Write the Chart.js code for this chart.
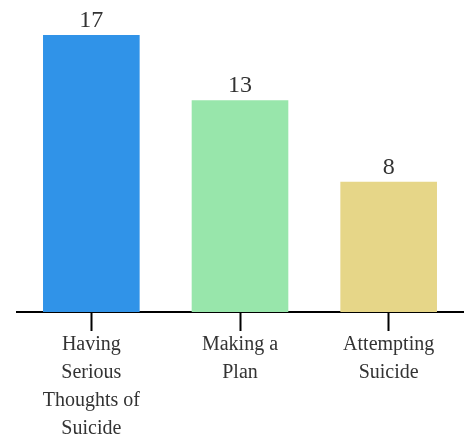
<!DOCTYPE html>
<html>
<head>
<meta charset="utf-8">
<script src="https://cdn.jsdelivr.net/npm/chart.js@4"></script>
<style>
  body { margin: 0; background: #fff; }
  #wrap { width: 468px; height: 438px; }
</style>
</head>
<body>
<div id="wrap"><canvas id="chart" width="468" height="438"></canvas></div>
<script>
// Chart data
const categories = [
  ['Having', 'Serious', 'Thoughts of', 'Suicide'],
  ['Making a', 'Plan'],
  ['Attempting', 'Suicide']
];
const counts = [17, 13, 8];
const barColors = ['#3093e8', '#98e6ab', '#e6d688'];

// Draw the count above each bar
const valueLabels = {
  id: 'valueLabels',
  afterDatasetsDraw(chart) {
    const ctx = chart.ctx;
    const meta = chart.getDatasetMeta(0);
    ctx.save();
    ctx.font = '24px "Liberation Serif", "Times New Roman", serif';
    ctx.fillStyle = '#333';
    ctx.textAlign = 'center';
    ctx.textBaseline = 'alphabetic';
    meta.data.forEach((bar, i) => {
      ctx.fillText(counts[i], bar.x, bar.y - 8);
    });
    ctx.restore();
  }
};

const ctx = document.getElementById('chart').getContext('2d');
new Chart(ctx, {
  type: 'bar',
  data: {
    labels: categories,
    datasets: [{
      data: counts,
      backgroundColor: barColors,
      borderWidth: 0,
      barPercentage: 0.65,
      categoryPercentage: 1
    }]
  },
  options: {
    responsive: false,
    animation: false,
    layout: { padding: { top: 35, left: 17, right: 5, bottom: 0 } },
    plugins: {
      legend: { display: false },
      tooltip: { enabled: false }
    },
    scales: {
      x: {
        // labels overflow the bottom edge a little in the original
        afterFit(scale) { scale.height -= 5; },
        grid: {
          offset: false,
          drawOnChartArea: false,
          tickLength: 19,
          tickWidth: 2,
          tickColor: '#000'
        },
        border: { color: '#000', width: 2 },
        ticks: {
          padding: 0,
          color: '#333',
          font: { family: '"Liberation Serif", "Times New Roman", serif', size: 20, lineHeight: 1.4 },
          maxRotation: 0
        }
      },
      y: {
        display: false,
        min: 0,
        max: 17
      }
    }
  },
  plugins: [valueLabels]
});
</script>
</body>
</html>
